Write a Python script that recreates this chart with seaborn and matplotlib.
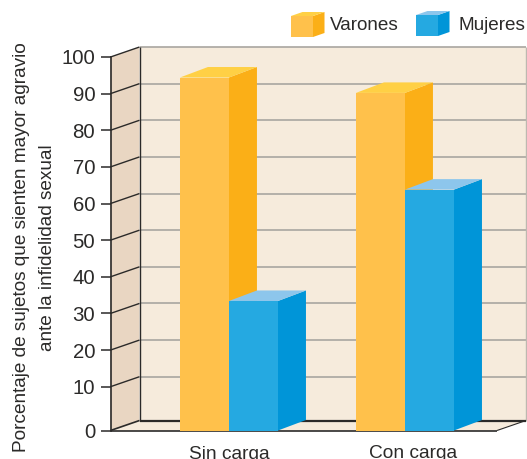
import matplotlib
matplotlib.use("Agg")
import matplotlib.pyplot as plt
from matplotlib.patches import Polygon
from matplotlib.transforms import Affine2D, ScaledTranslation
import numpy as np
import pandas as pd
import seaborn as sns

categories = ["Sin carga", "Con carga"]
series_names = ["Varones", "Mujeres"]
varones = [94.4, 90.2]
mujeres = [33.4, 63.8]
y_ticks = list(range(0, 101, 10))
y_label = "Porcentaje de sujetos que sienten mayor agravio\nante la infidelidad sexual"

FRONT = {"Varones": "#FFC14B", "Mujeres": "#25A9E1"}
SIDE = {"Varones": "#FBAF17", "Mujeres": "#0095D8"}
TOP = {"Varones": "#FFD045", "Mujeres": "#8DC6EC"}
BACK = "#F6EBDC"
LEFT = "#E9D6C2"
GRID = "#A9A6A0"
INK = "#2B2A29"

sns.set_theme(style="white")
plt.rcParams["font.family"] = ["Liberation Sans", "DejaVu Sans"]

W, H = 527, 459
AX_L, AX_R, AX_T, AX_B = 110.5, 497.0, 57.0, 430.5
fig = plt.figure(figsize=(W / 100, H / 100), dpi=100)
ax = fig.add_axes([AX_L / W, (H - AX_B) / H, (AX_R - AX_L) / W, (AX_B - AX_T) / H])

df = pd.DataFrame({
    "carga": categories * 2,
    "grupo": [series_names[0]] * 2 + [series_names[1]] * 2,
    "valor": varones + mujeres,
})
sns.barplot(data=df, x="carga", y="valor", hue="grupo", hue_order=series_names,
            palette=FRONT, width=0.557, gap=0, dodge=True, legend=False,
            saturation=1, ax=ax, linewidth=0, zorder=3)
bars = sorted(list(ax.patches), key=lambda b: b.get_x())

# the printed axis has a taller first interval (0-10) than the rest
SCALE_V = [0, 10, 100]
SCALE_U = [0, 43.8, 373.5]


def fwd(v):
    return np.interp(v, SCALE_V, SCALE_U, left=-1, right=400)


def inv(u):
    return np.interp(u, SCALE_U, SCALE_V, left=-1, right=110)


ax.set_yscale("function", functions=(fwd, inv))
x0, x1 = -0.673, 1.523
ax.set_xlim(x0, x1)
ax.set_ylim(0, 100)
AW, AH = AX_R - AX_L, AX_B - AX_T


def P(x, v, dx=0.0, dy=0.0):
    """data x / value v plus a depth offset in pixels, as axes fractions"""
    return ((x - x0) / (x1 - x0) + dx / AW, float(fwd(v)) / AH + dy / AH)


def poly(pts, color, z):
    ax.add_patch(Polygon(pts, closed=True, facecolor=color, edgecolor="none",
                         zorder=z, clip_on=False, transform=ax.transAxes))


def line(a, b, color, lw, z):
    ax.plot([a[0], b[0]], [a[1], b[1]], color=color, lw=lw, zorder=z, clip_on=False,
            solid_capstyle="butt", transform=ax.transAxes)


WX, WY = 29, 10
# walls and floor
poly([P(x0, 0, WX, WY), P(x1, 0, WX, WY), P(x1, 100, WX, WY), P(x0, 100, WX, WY)], BACK, 0)
poly([P(x0, 0), P(x0, 0, WX, WY), P(x0, 100, WX, WY), P(x0, 100)], LEFT, 0)
poly([P(x0, 0), P(x1, 0), P(x1, 0, WX, WY), P(x0, 0, WX, WY)], BACK, 0)

for v in y_ticks[1:]:
    line(P(x0, v, WX, WY), P(x1, v, WX, WY), GRID, 1.2, 0.5)
    line(P(x0, v), P(x0, v, WX, WY), INK, 1.0, 0.6)
line(P(x1, 0, WX, WY), P(x1, 100, WX, WY), "#BDB8B0", 1.0, 0.5)
line(P(x0, 0), P(x0, 0, WX, WY), INK, 1.2, 0.6)
line(P(x0, 0, WX, WY), P(x1, 0, WX, WY), INK, 1.6, 0.7)
line(P(x0, 0, WX, WY), P(x0, 100, WX, WY), INK, 1.0, 0.7)
line(P(x0, 0), P(x1, 0), INK, 1.2, 0.8)
line(P(x1, 0), P(x1, 0, WX, WY), INK, 0.8, 0.8)

# depth faces of each bar, taken from the bars seaborn drew
BX, BY = 28, 10.5
for i, b in enumerate(bars):
    name = series_names[i % 2]
    bl, w, h = b.get_x(), b.get_width(), b.get_height()
    z = 1 + 2 * (i % 2)
    b.set_zorder(z + 1)
    b.set_clip_on(False)
    poly([P(bl + w, 0), P(bl + w, 0, BX, BY), P(bl + w, h, BX, BY), P(bl + w, h)], SIDE[name], z)
    poly([P(bl, h), P(bl + w, h), P(bl + w, h, BX, BY), P(bl, h, BX, BY)], TOP[name], z)

# axes furniture
for s in ax.spines.values():
    s.set_visible(False)
ax.spines["left"].set_visible(True)
ax.spines["left"].set_color(INK)
ax.spines["left"].set_linewidth(1.2)
ax.spines["left"].set_zorder(5)
ax.set_yticks(y_ticks)
ax.set_yticklabels([str(v) for v in y_ticks], fontsize=14.7, color=INK)
ax.minorticks_off()
ax.tick_params(axis="y", left=True, length=7, width=1.1, color=INK, pad=4)
ax.set_xticks([0, 1])
ax.set_xticklabels(categories, fontsize=13.8, color=INK)
ax.tick_params(axis="x", bottom=False, pad=5.5)
ax.get_xticklabels()[1].set_transform(
    ax.get_xticklabels()[1].get_transform() + ScaledTranslation(8 / 100, 1 / 100, fig.dpi_scale_trans))
ax.set_xlabel("")
ax.set_ylabel("")
fig.text(34.5 / W, (H - 247.5) / H, y_label, rotation=90, ha="center", va="center",
         fontsize=13.7, color=INK, linespacing=1.72, multialignment="center")

# legend cubes in figure pixels
px = Affine2D().scale(1 / W, 1 / H) + fig.transFigure


def cube(xl, yb, name):
    w, h, dx, dy = 22, 21, 11.5, 4
    for pts, col in [
        ([(xl, yb), (xl + w, yb), (xl + w, yb + h), (xl, yb + h)], FRONT[name]),
        ([(xl + w, yb), (xl + w + dx, yb + dy), (xl + w + dx, yb + h + dy), (xl + w, yb + h)], SIDE[name]),
        ([(xl, yb + h), (xl + w, yb + h), (xl + w + dx, yb + h + dy), (xl + dx, yb + h + dy)], TOP[name]),
    ]:
        fig.add_artist(Polygon(pts, closed=True, facecolor=col, edgecolor="none", transform=px))


cube(291, H - 37, "Varones")
cube(416, H - 36, "Mujeres")
fig.text(329.5 / W, (H - 30.5) / H, series_names[0], fontsize=13.6, color=INK, va="baseline", ha="left")
fig.text(459 / W, (H - 30) / H, series_names[1], fontsize=13.6, color=INK, va="baseline", ha="left")

fig.savefig("out.png", dpi=100, facecolor="white")
